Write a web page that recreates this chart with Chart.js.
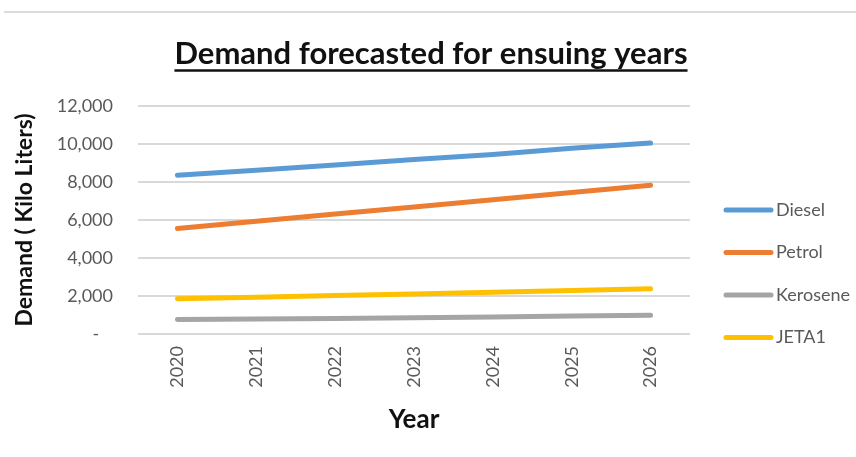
<!DOCTYPE html>
<html>
<head>
<meta charset="utf-8">
<script src="https://cdn.jsdelivr.net/npm/chart.js@4"></script>
<style>
  html, body { margin: 0; padding: 0; background: #fff; }
  .wrap { position: relative; width: 856px; height: 457px; }
  .topline { position: absolute; left: 4px; right: 0; top: 11px; height: 2px; background: #dcdcdc; }
  canvas { position: absolute; left: 0; top: 0; }
</style>
</head>
<body>
<div class="wrap">
  <div class="topline"></div>
  <canvas id="demandChart" width="856" height="457"></canvas>
</div>
<script>
// forecast demand, kilo liters
const years = ["2020", "2021", "2022", "2023", "2024", "2025", "2026"];
const diesel = [8350, 8620, 8900, 9180, 9450, 9780, 10050];
const petrol = [5550, 5930, 6310, 6690, 7070, 7450, 7830];
const kerosene = [760, 790, 820, 850, 900, 950, 990];
const jeta1 = [1860, 1930, 2030, 2110, 2200, 2290, 2380];
const yTicks = [0, 2000, 4000, 6000, 8000, 10000, 12000];

const TITLE = "Demand forecasted for ensuing years";
const FONT = "Lato, 'Open Sans', sans-serif";
const GREY_TEXT = "#595959";

function series(label, data, color) {
  return {
    label: label,
    data: data,
    borderColor: color,
    backgroundColor: color,
    borderWidth: 5,
    pointRadius: 0,
    tension: 0,
    borderCapStyle: "round",
  };
}

// underlined title over the plot + legend drawn as line swatches on the right
const extras = {
  id: "extras",
  afterDraw(chart) {
    const ctx = chart.ctx;
    const area = chart.chartArea;
    ctx.save();
    ctx.font = "bold 31px " + FONT;
    ctx.fillStyle = "#111";
    ctx.textAlign = "center";
    ctx.textBaseline = "alphabetic";
    const cx = (area.left + area.right) / 2 + 17;
    ctx.fillText(TITLE, cx, 64);
    const w = ctx.measureText(TITLE).width;
    ctx.strokeStyle = "#111";
    ctx.lineWidth = 2.5;
    ctx.beginPath();
    ctx.moveTo(cx - w / 2, 70.5);
    ctx.lineTo(cx + w / 2, 70.5);
    ctx.stroke();

    ctx.font = "18px " + FONT;
    ctx.textBaseline = "middle";
    ctx.textAlign = "left";
    chart.data.datasets.forEach((ds, i) => {
      const y = 210 + i * 42.5;
      ctx.strokeStyle = ds.borderColor;
      ctx.lineWidth = 5;
      ctx.lineCap = "round";
      ctx.beginPath();
      ctx.moveTo(726, y);
      ctx.lineTo(771, y);
      ctx.stroke();
      ctx.fillStyle = GREY_TEXT;
      ctx.fillText(ds.label, 776, y);
    });
    ctx.restore();
  },
};

new Chart(document.getElementById("demandChart"), {
  type: "line",
  data: {
    labels: years,
    datasets: [
      series("Diesel", diesel, "#5b9bd5"),
      series("Petrol", petrol, "#ed7d31"),
      series("Kerosene", kerosene, "#a5a5a5"),
      series("JETA1", jeta1, "#ffc000"),
    ],
  },
  options: {
    responsive: false,
    animation: false,
    layout: { padding: { left: 0, right: 166, top: 106, bottom: 0 } },
    plugins: {
      legend: { display: false },
      tooltip: { enabled: false },
      title: { display: false },
    },
    scales: {
      x: {
        offset: true,
        grid: { display: false, drawTicks: false },
        border: { display: false },
        ticks: {
          color: GREY_TEXT,
          font: { family: FONT, size: 18 },
          minRotation: 90,
          maxRotation: 90,
          padding: 12,
        },
        title: {
          display: true,
          text: "Year",
          color: "#111",
          font: { family: FONT, size: 26, weight: "bold" },
          padding: { top: 4, bottom: 22 },
        },
        afterFit(scale) { scale.height = 123; },
      },
      y: {
        min: 0,
        max: 12000,
        afterBuildTicks(scale) { scale.ticks = yTicks.map(v => ({ value: v })); },
        grid: { color: "#d9d9d9", lineWidth: 2, drawTicks: false },
        border: { display: false },
        ticks: {
          color: GREY_TEXT,
          font: { family: FONT, size: 18 },
          padding: 25,
          callback: v => (v === 0 ? "-   " : v.toLocaleString("en-US")),
        },
        title: {
          display: true,
          text: "Demand ( Kilo Liters)",
          color: "#111",
          font: { family: FONT, size: 23, weight: "bold" },
          padding: { top: 11, bottom: 0 },
        },
        afterFit(scale) { scale.width = 138; },
      },
    },
  },
  plugins: [extras],
});
</script>
</body>
</html>
